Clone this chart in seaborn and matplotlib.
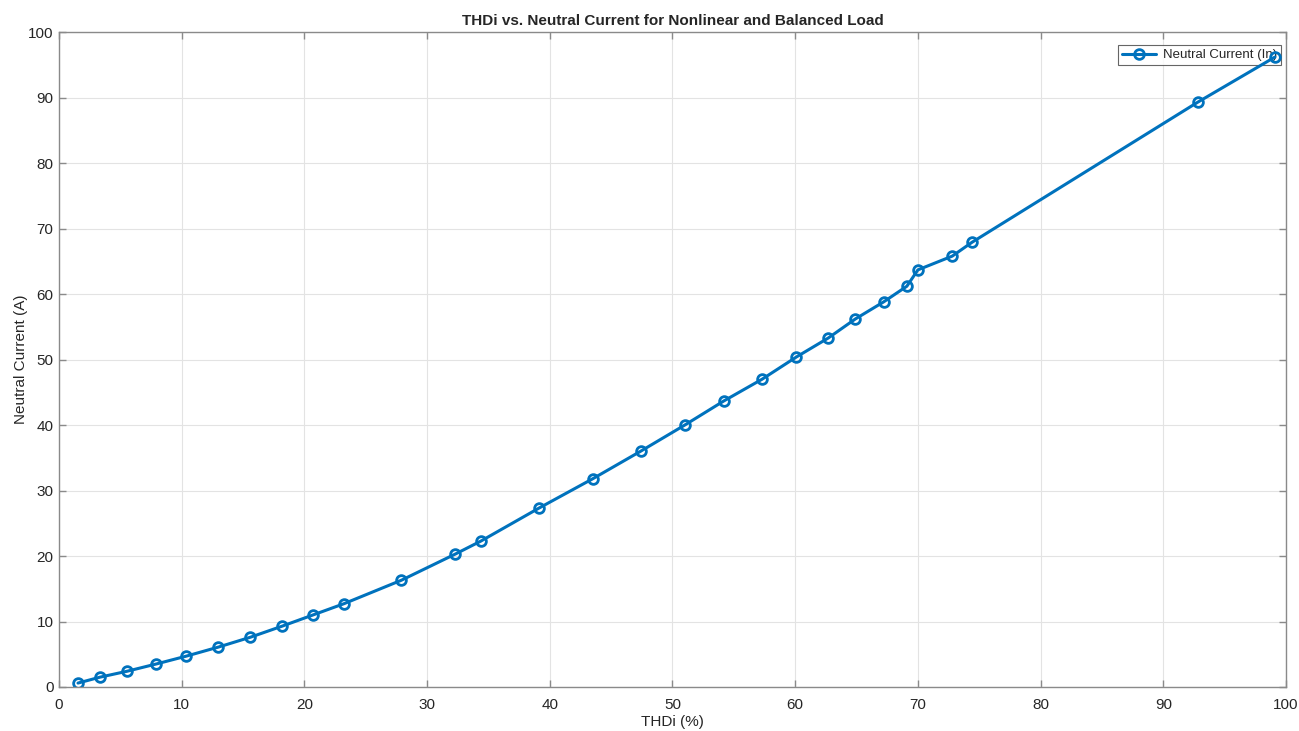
import numpy as np
import pandas as pd
import seaborn as sns
import matplotlib.pyplot as plt

# values
thdi = [1.55, 3.34, 5.54, 7.9, 10.35, 13.0, 15.6, 18.2, 20.7, 23.2, 27.9, 32.3, 34.4,
        39.1, 43.5, 47.4, 51.0, 54.2, 57.3, 60.1, 62.7, 64.9, 67.2, 69.1, 70.0, 72.8,
        74.4, 92.8, 99.1]
neutral = [0.6, 1.5, 2.4, 3.5, 4.7, 6.1, 7.6, 9.3, 11.0, 12.7, 16.3, 20.3, 22.3,
           27.3, 31.8, 36.0, 40.0, 43.7, 47.0, 50.4, 53.3, 56.2, 58.8, 61.2, 63.7, 65.8,
           67.9, 89.3, 96.2]
xticks = list(range(0, 101, 10))
yticks = list(range(0, 101, 10))

df = pd.DataFrame({'THDi': thdi, 'In': neutral})

sns.set_style('white')
plt.rcParams['font.family'] = ['Liberation Sans', 'DejaVu Sans']

fig = plt.figure(figsize=(12.99, 7.31), dpi=100)
ax = fig.add_axes([0.0454, 0.0602, 0.9446, 0.8958])

blue = '#0072BD'
sns.lineplot(data=df, x='THDi', y='In', ax=ax, color=blue, linewidth=2.2,
             marker='o', markersize=7, markerfacecolor='none',
             markeredgecolor=blue, markeredgewidth=2, label='Neutral Current (In)')

ax.set_xlim(0, 100)
ax.set_ylim(0, 100)
ax.set_xticks(xticks)
ax.set_yticks(yticks)
ax.grid(True, color='#e3e3e3', linewidth=0.8)
ax.set_axisbelow(True)
for s in ax.spines.values():
    s.set_color('#8a8a8a')
    s.set_linewidth(1)
ax.tick_params(direction='in', length=5, width=1, color='#8a8a8a', labelcolor='#262626',
               labelsize=11, top=True, right=True, bottom=True, left=True)
ax.tick_params(axis='x', pad=8)
ax.tick_params(axis='y', pad=4)

ax.set_xlabel('THDi (%)', fontsize=11, color='#262626', labelpad=2)
ax.set_ylabel('Neutral Current (A)', fontsize=11, color='#262626', labelpad=0)
ax.set_title('THDi vs. Neutral Current for Nonlinear and Balanced Load',
             fontsize=11, fontweight='bold', pad=5)

leg = ax.legend(loc='upper right', bbox_to_anchor=(0.996, 0.98), fontsize=9.5,
                frameon=True, fancybox=False, borderaxespad=0, handlelength=2.6,
                borderpad=0.3, handletextpad=0.5)
leg.get_frame().set_edgecolor('#404040')
leg.get_frame().set_linewidth(0.8)
leg.set_zorder(1.5)  # data line sits on top of the legend box, as in the original

fig.savefig('out.png', dpi=100)
